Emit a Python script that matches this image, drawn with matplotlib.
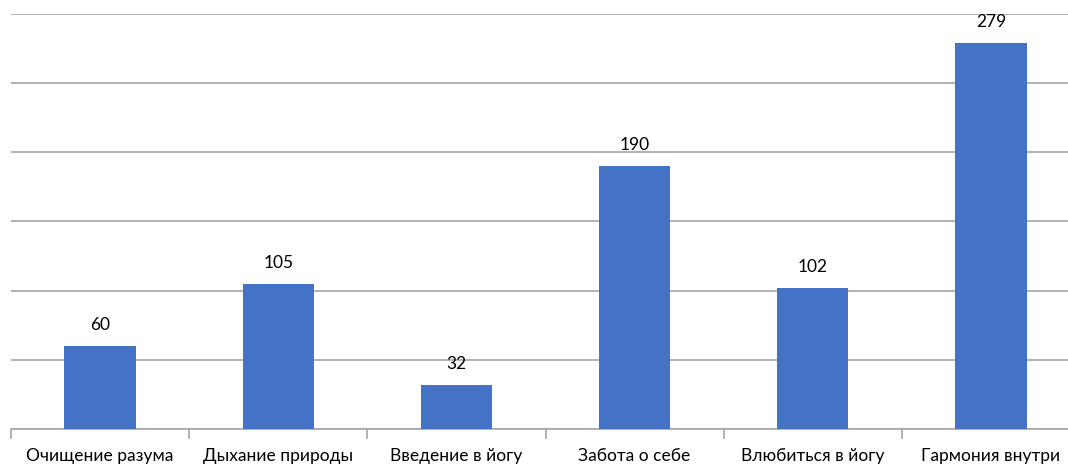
import matplotlib
matplotlib.use("Agg")
import matplotlib.pyplot as plt
import numpy as np

categories = ["Очищение разума", "Дыхание природы", "Введение в йогу",
              "Забота о себе", "Влюбиться в йогу", "Гармония внутри"]
values = [60, 105, 32, 190, 102, 279]

plt.rcParams['font.family'] = ['Lato', 'DejaVu Sans']

W, H = 1068, 466
fig = plt.figure(figsize=(W / 100, H / 100), dpi=100)
left, right = 11, 1080
top, bottom = 14, 429
ax = fig.add_axes([left / W, 1 - bottom / H, (right - left) / W, (bottom - top) / H])

x = np.arange(len(categories))
bars = ax.bar(x, values, width=0.4, color="#4472C4", zorder=3)
ax.set_xlim(-0.5, len(categories) - 0.5)
ax.set_ylim(0, 300)
ax.set_yticks(np.arange(0, 301, 50))
ax.yaxis.grid(True, color="#A6A6A6", linewidth=1.2, zorder=0)
ax.tick_params(axis='y', left=False, labelleft=False)

for sp in ["top", "right", "left"]:
    ax.spines[sp].set_visible(False)
ax.spines["bottom"].set_color("#A6A6A6")
ax.spines["bottom"].set_linewidth(1.2)

ax.set_xticks(x)
ax.set_xticklabels(categories, fontsize=12.5, color="#000000")
ax.tick_params(axis='x', length=0, pad=13.5)
ax.set_xticks(np.arange(-0.5, len(categories), 1), minor=True)
ax.tick_params(axis='x', which='minor', length=7, color="#A6A6A6", width=1.2)

for xi, v in zip(x, values):
    ax.annotate(str(v), (xi, v), xytext=(0, 15), textcoords="offset points",
                ha="center", va="center", fontsize=12.5, color="#000000")

fig.savefig("out.png", dpi=100)
